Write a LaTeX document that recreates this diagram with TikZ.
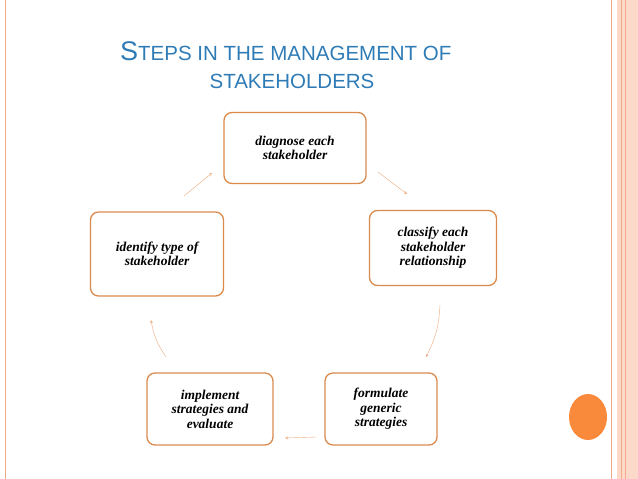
\documentclass[tikz,border=0pt]{standalone}
\usepackage{fontspec}
\setmainfont{Liberation Serif}
\newfontfamily\titlefont{Liberation Sans}
\usetikzlibrary{positioning}
\definecolor{boxline}{HTML}{D98B4E}
\definecolor{arrline}{HTML}{EAAA7E}
\definecolor{titleblue}{HTML}{2E7BB5}
\definecolor{bandfill}{HTML}{FCD9C8}
\definecolor{frameline}{HTML}{F4A98A}
\definecolor{dotfill}{HTML}{F98A3C}
\begin{document}
\begin{tikzpicture}[
      x=1pt, y=-1pt,
      stepbox/.style={draw=boxline, line width=1.3pt, rounded corners=8pt, fill=white,
        align=center, font=\bfseries\itshape\fontsize{13.5}{14.5}\selectfont, inner sep=2pt},
      cycarrow/.style={->, draw=arrline, thin, >=stealth}
    ]
    \useasboundingbox (0,0) rectangle (638,479);
    % slide frame
    \fill[bandfill] (617,0) rectangle (638,479);
    \draw[frameline] (5,0) -- (5,479);
    \draw[frameline] (611,0) -- (611,479);
    \draw[frameline] (621,0) -- (621,479);
    \draw[frameline] (625,0) -- (625,479);
    \fill[dotfill] (588,417) ellipse (19 and 23);
    % title
    \node[anchor=base west, text=titleblue, font=\titlefont, inner sep=0] (title) at (120,60)
      {{\fontsize{27}{30}\selectfont S}{\fontsize{20.5}{24}\selectfont TEPS IN THE MANAGEMENT OF}};
    \node[anchor=base, text=titleblue, font=\titlefont\fontsize{20.5}{24}\selectfont, inner sep=0] (title2) at (292,88)
      {STAKEHOLDERS};
    % steps
    \node[stepbox, minimum width=142pt, minimum height=71pt] (diagnose) at (295,148)
      {diagnose each\\stakeholder};
    \node[stepbox, minimum width=127pt, minimum height=75pt] (classify) at (433,248)
      {classify each\\stakeholder\\relationship};
    \node[stepbox, minimum width=112pt, minimum height=72pt] (formulate) at (381,409)
      {formulate\\generic\\strategies};
    \node[stepbox, minimum width=133pt, minimum height=84pt] (identify) at (157,254)
      {identify type of\\stakeholder};
    \node[stepbox, minimum width=126pt, minimum height=72pt] (implement) at (210,409)
      {implement\\strategies and\\evaluate};
    % arrows
    \coordinate (a1) at (378,172); \coordinate (b1) at (407,194);
    \coordinate (a2) at (440,305); \coordinate (b2) at (426,357);
    \coordinate (a3) at (316,437); \coordinate (b3) at (285,438);
    \coordinate (a4) at (166,357); \coordinate (b4) at (151,320);
    \coordinate (a5) at (184,196); \coordinate (b5) at (212,173);
    \draw[cycarrow] (a1) -- (b1);
    \draw[cycarrow] (a2) to[bend left=12] (b2);
    \draw[cycarrow] (a3) -- (b3);
    \draw[cycarrow] (a4) to[bend left=12] (b4);
    \draw[cycarrow] (a5) -- (b5);
\end{tikzpicture}
\end{document}
